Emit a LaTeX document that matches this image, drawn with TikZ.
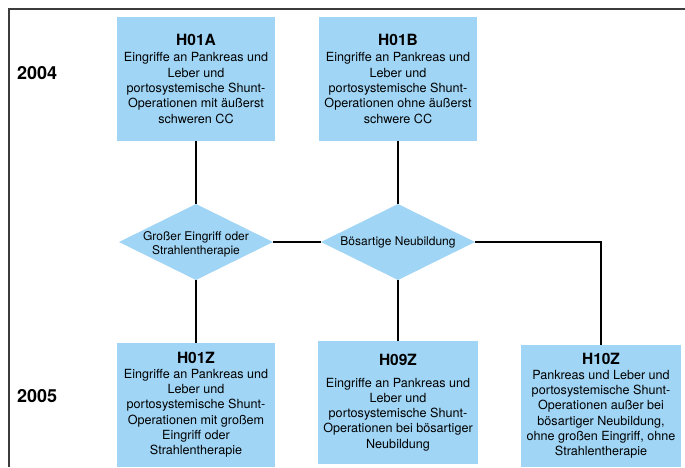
\documentclass[tikz,border=0pt]{standalone}
\usepackage{fontspec}
\setmainfont{TeX Gyre Heros}
\usetikzlibrary{shapes.geometric}
\definecolor{boxblue}{RGB}{160,213,245}
\definecolor{framegray}{RGB}{60,60,60}
\newcommand\boxtitle[1]{{\fontsize{15.5}{16}\selectfont\bfseries #1}}
\begin{document}
\begin{tikzpicture}[x=1pt,y=-1pt,
  every node/.style={inner sep=0pt, outer sep=0pt},
  box/.style={rectangle, fill=boxblue, minimum width=158pt, minimum height=124pt,
    align=center, font=\fontsize{12.6}{15.3}\selectfont},
  dia/.style={diamond, fill=boxblue, minimum width=154pt, minimum height=76pt},
  diatext/.style={align=center, font=\fontsize{12}{14.3}\selectfont},
  year/.style={anchor=base west, font=\fontsize{18}{20}\selectfont\bfseries},
  link/.style={line width=1.3pt, black},
  framerule/.style={line width=1.6pt, framegray}]
\useasboundingbox (0,0) rectangle (685,467);

% frame along the top and left edge
\draw[framerule] (9,467) -- (9,9) -- (685,9);

% year labels
\node[year] (y04) at (17,79.3) {2004};
\node[year] (y05) at (17,402.7) {2005};

% 2004 groups
\node[box] (a) at (196,79) {\boxtitle{H01A}\\[0.7pt]
  Eingriffe an Pankreas und\\Leber und\\portosystemische Shunt-\\Operationen mit äußerst\\schweren CC};
\node[box] (b) at (398,79) {\boxtitle{H01B}\\[0.7pt]
  Eingriffe an Pankreas und\\Leber und\\portosystemische Shunt-\\Operationen ohne äußerst\\schwere CC};

% decisions
\node[dia] (d1) at (196,242) {};
\node[diatext] (d1t) at (196,244.5) {Großer Eingriff oder\\Strahlentherapie};
\node[dia] (d2) at (398,242) {};
\node[diatext] (d2t) at (398,242) {Bösartige Neubildung};

% 2005 groups
\node[box] (z1) at (196,405) {\boxtitle{H01Z}\\[-1pt]
  Eingriffe an Pankreas und\\Leber und\\portosystemische Shunt-\\Operationen mit großem\\Eingriff oder\\Strahlentherapie};
\node[box, minimum width=160pt, minimum height=123pt] (z9) at (398,402.5) {\boxtitle{H09Z}\\[6.4pt]
  Eingriffe an Pankreas und\\Leber und\\portosystemische Shunt-\\Operationen bei bösartiger\\Neubildung};
\node[box, minimum width=160pt, minimum height=122pt] (z10) at (601,406) {\boxtitle{H10Z}\\[-0.6pt]
  Pankreas und Leber und\\portosystemische Shunt-\\Operationen außer bei\\bösartiger Neubildung,\\ohne großen Eingriff, ohne\\Strahlentherapie};

% connectors
\draw[link] (a.south) -- (d1.north);
\draw[link] (d1.south) -- (z1.north);
\draw[link] (b.south) -- (d2.north);
\draw[link] (d2.south) -- (z9.north);
\draw[link] (d1.east) -- (d2.west);
\draw[link] (d2.east) -| (z10.north);
\end{tikzpicture}
\end{document}
